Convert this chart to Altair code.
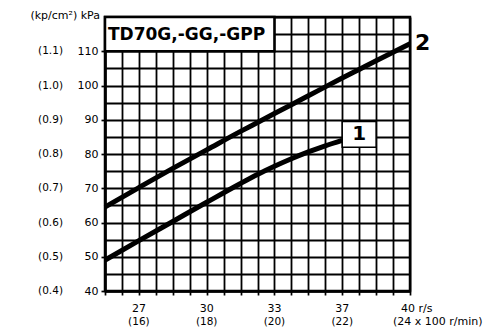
import altair as alt
import pandas as pd

# ---- data (x in 100 r/min, y in kPa) ----
rpm = [15, 16, 17, 18, 19, 19.5, 20, 20.5, 21, 21.5, 22, 22.5, 23, 23.5, 24]
curve2_kpa = [64.5, 70.2, 75.8, 81.2, 86.6, 89.2, 91.8, 94.4, 97.0, 99.6, 102.2, 104.7, 107.2, 109.7, 112.2]
curve1_rpm = [15, 16, 17, 18, 19, 19.5, 20, 20.5, 21, 21.5, 22]
curve1_kpa = [49.0, 54.7, 60.3, 65.9, 71.4, 74.0, 76.4, 78.6, 80.6, 82.4, 84.0]

x_tick_vals = [16, 18, 20, 22]
x_rs_labels = ["27", "30", "33", "37"]
x_rpm_labels = ["(16)", "(18)", "(20)", "(22)"]
x_last_val = [24]
x_last_rs = ["40 r/s"]
x_last_rpm = ["(24 x 100 r/min)"]

y_tick_vals = [40, 50, 60, 70, 80, 90, 100, 110]
y_kp_labels = ["(0.4)", "(0.5)", "(0.6)", "(0.7)", "(0.8)", "(0.9)", "(1.0)", "(1.1)"]

title_text = "TD70G,-GG,-GPP"
unit_text = "(kp/cm²) kPa"

FONT = "DejaVu Sans"

lines_df = pd.DataFrame(
    {"x": rpm + curve1_rpm, "y": curve2_kpa + curve1_kpa,
     "s": ["2"] * len(rpm) + ["1"] * len(curve1_rpm)}
)

xscale = alt.Scale(domain=[15, 24], nice=False, zero=False)
yscale = alt.Scale(domain=[40, 120], nice=False, zero=False)

grid_x = [15 + 0.5 * i for i in range(19)]
grid_y = [40 + 5 * i for i in range(17)]

AX = alt.Axis(
    values=grid_x, labels=False, title=None, grid=True,
    gridColor="black", gridWidth=1.8, gridOpacity=1,
    domainColor="black", domainWidth=2.5,
    tickColor="black", tickSize=4, tickWidth=1.7)
AY = alt.Axis(
    values=grid_y, title=None, grid=True,
    gridColor="black", gridWidth=1.8, gridOpacity=1,
    domainColor="black", domainWidth=2.5,
    tickColor="black", tickWidth=1.7,
    tickSize={"condition": {"test": "datum.value % 10 === 0 && datum.value < 120", "value": 4}, "value": 0},
    labelExpr="(datum.value % 10 === 0 && datum.value <= 110) ? datum.label : ''",
    labelOverlap=False,
    labelFont=FONT, labelFontSize=11, labelColor="black", labelPadding=3)


def X(f):
    return alt.X(f, scale=xscale, axis=AX)


def Y(f):
    return alt.Y(f, scale=yscale, axis=AY)


lines = alt.Chart(lines_df).mark_line(
    color="black", strokeWidth=5, interpolate="monotone", strokeCap="butt"
).encode(x=X("x:Q"), y=Y("y:Q"), detail="s:N")

# title box
tbox_df = pd.DataFrame({"x": [15], "x2": [20], "y": [110], "y2": [120], "ym": [115], "t": [title_text]})
tbox = alt.Chart(tbox_df).mark_rect(fill="white", stroke="black", strokeWidth=2.5).encode(
    x=X("x:Q"), x2="x2:Q", y=Y("y:Q"), y2="y2:Q")
ttext = alt.Chart(tbox_df).mark_text(
    align="left", baseline="middle", font=FONT, fontWeight="bold", fontSize=17, dx=3, dy=1, color="black"
).encode(x=X("x:Q"), y=Y("ym:Q"), text="t:N")

# "1" label box
b1_df = pd.DataFrame({"x": [22], "x2": [23], "y": [82], "y2": [89.5], "xm": [22.5], "ym": [85.8], "t": ["1"]})
b1 = alt.Chart(b1_df).mark_rect(fill="white", stroke="black", strokeWidth=1.5).encode(
    x=X("x:Q"), x2="x2:Q", y=Y("y:Q"), y2="y2:Q")
b1t = alt.Chart(b1_df).mark_text(
    font=FONT, fontWeight="bold", fontSize=20, baseline="middle", color="black"
).encode(x=X("xm:Q"), y=Y("ym:Q"), text="t:N")

# "2" label
l2_df = pd.DataFrame({"x": [24], "y": [112.5], "t": ["2"]})
l2 = alt.Chart(l2_df).mark_text(
    font=FONT, fontWeight="bold", fontSize=22, align="left", baseline="middle", dx=5, color="black"
).encode(x=X("x:Q"), y=Y("y:Q"), text="t:N")

# y secondary labels (kp/cm2)
ykp_df = pd.DataFrame({"y": y_tick_vals, "t": y_kp_labels})
ykp = alt.Chart(ykp_df).mark_text(
    font=FONT, fontSize=10.5, align="right", baseline="middle", color="black"
).encode(x=alt.value(-42), y=Y("y:Q"), text="t:N")

# unit header
unit = alt.Chart(pd.DataFrame({"t": [unit_text]})).mark_text(
    font=FONT, fontSize=11, align="right", baseline="middle", color="black"
).encode(x=alt.value(-5), y=alt.value(-1), text="t:N")

# x labels
xl_df = pd.DataFrame({"x": x_tick_vals, "a": x_rs_labels, "b": x_rpm_labels})
xl1 = alt.Chart(xl_df).mark_text(font=FONT, fontSize=11, baseline="middle", color="black").encode(
    x=X("x:Q"), y=alt.value(292), text="a:N")
xl2 = alt.Chart(xl_df).mark_text(font=FONT, fontSize=10.5, baseline="alphabetic", color="black").encode(
    x=X("x:Q"), y=alt.value(308), text="b:N")
xlast_df = pd.DataFrame({"x": x_last_val, "a": x_last_rs, "b": x_last_rpm})
xl3 = alt.Chart(xlast_df).mark_text(font=FONT, fontSize=11, baseline="middle", align="left", dx=-9, color="black").encode(
    x=X("x:Q"), y=alt.value(292), text="a:N")
xl4 = alt.Chart(xlast_df).mark_text(font=FONT, fontSize=11, baseline="alphabetic", align="left", dx=-17, color="black").encode(
    x=X("x:Q"), y=alt.value(308), text="b:N")

chart = alt.layer(
    lines, tbox, ttext, b1, b1t, l2, ykp, unit, xl1, xl2, xl3, xl4
).properties(
    width=305, height=274,
    autosize=alt.AutoSizeParams(type="none"),
    padding={"left": 97, "top": 9, "right": 85, "bottom": 36},
    background="white",
).configure_view(stroke="black", strokeWidth=2.5)

chart.save("out.html", embed_options={"renderer": "svg", "actions": False})
